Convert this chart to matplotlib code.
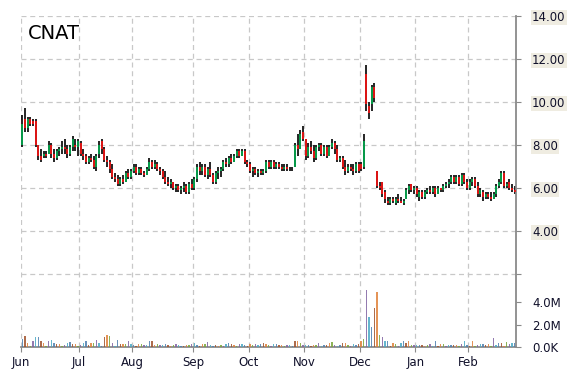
import numpy as np
import matplotlib
matplotlib.use('Agg')
import matplotlib.pyplot as plt

# daily OHLC (trading days, Jun -> Feb)
opens = [8.0, 9.2, 8.8, 9.2, 9.1, 9.1, 8.0, 7.5, 7.5, 7.6,
         7.6, 8.0, 7.6, 7.4, 7.7, 7.8, 7.9, 7.8, 7.6, 7.9,
         8.0, 7.9, 8.1, 7.6, 7.5, 7.2, 7.4, 7.3, 7.0, 7.6,
         8.2, 7.8, 7.3, 7.2, 6.9, 6.5, 6.4, 6.2, 6.4, 6.3,
         6.7, 6.5, 6.8, 7.0, 6.7, 6.9, 6.7, 6.6, 6.9, 7.2,
         7.0, 7.1, 6.9, 6.8, 6.5, 6.3, 6.2, 6.3, 6.0, 6.1,
         5.9, 6.0, 6.1, 5.8, 6.2, 6.0, 6.4, 7.0, 6.8, 7.0,
         6.6, 6.9, 6.6, 6.3, 6.7, 6.8, 6.9, 7.2, 7.1, 7.4,
         7.2, 7.5, 7.7, 7.5, 7.7, 7.2, 7.1, 6.8, 6.9, 6.7,
         6.8, 6.7, 6.8, 7.2, 7.0, 7.2, 7.0, 7.1, 7.0, 6.9,
         7.0, 6.9, 6.9, 7.0, 8.0, 7.8, 8.6, 8.3, 7.5, 7.9,
         7.7, 7.4, 7.9, 8.0, 7.6, 7.9, 7.5, 7.9, 8.1, 7.8,
         7.3, 7.4, 7.0, 6.8, 7.0, 6.9, 6.8, 7.1, 7.1, 7.0,
         11.3, 9.8, 9.9, 10.7, 6.8, 6.1, 6.3, 5.8, 5.4, 5.3,
         5.5, 5.3, 5.5, 5.4, 5.3, 5.5, 5.9, 6.2, 5.9, 6.0,
         5.6, 5.8, 5.6, 5.8, 5.9, 5.8, 6.0, 5.7, 6.0, 5.9,
         6.1, 6.2, 6.3, 6.5, 6.3, 6.5, 6.2, 6.6, 6.3, 6.0,
         6.3, 6.4, 6.1, 5.7, 5.8, 5.6, 5.7, 5.6, 5.5, 5.7,
         6.1, 6.3, 6.7, 6.1, 6.3, 6.0, 5.9]
highs = [9.4, 9.7, 9.3, 9.3, 9.2, 9.2, 8.0, 7.8, 7.7, 7.7,
         8.2, 8.1, 7.8, 7.8, 7.9, 8.2, 8.3, 8.0, 8.0, 8.4,
         8.3, 8.3, 8.2, 7.8, 7.6, 7.5, 7.6, 7.5, 7.6, 8.2,
         8.3, 7.9, 7.5, 7.3, 7.1, 6.7, 6.6, 6.5, 6.6, 6.8,
         6.9, 6.9, 7.1, 7.1, 7.0, 7.0, 6.8, 7.0, 7.4, 7.3,
         7.3, 7.2, 7.0, 6.9, 6.8, 6.5, 6.4, 6.3, 6.2, 6.2,
         6.1, 6.3, 6.2, 6.3, 6.4, 6.5, 7.1, 7.2, 7.1, 7.1,
         7.0, 7.2, 6.7, 6.8, 7.0, 7.0, 7.3, 7.4, 7.5, 7.6,
         7.6, 7.8, 7.8, 7.8, 7.8, 7.3, 7.2, 7.0, 7.0, 6.9,
         6.9, 6.9, 7.3, 7.3, 7.3, 7.3, 7.2, 7.2, 7.1, 7.1,
         7.1, 7.0, 7.0, 8.1, 8.5, 8.7, 8.9, 8.3, 8.1, 8.2,
         8.0, 8.0, 8.1, 8.1, 8.0, 8.0, 8.0, 8.3, 8.2, 8.0,
         7.5, 7.5, 7.3, 7.1, 7.1, 7.1, 7.2, 7.2, 7.2, 8.5,
         11.7, 10.0, 10.8, 10.9, 6.8, 6.3, 6.3, 5.9, 5.6, 5.6,
         5.6, 5.6, 5.7, 5.6, 5.5, 6.0, 6.2, 6.2, 6.1, 6.1,
         5.9, 5.9, 5.9, 6.0, 6.1, 6.1, 6.1, 6.1, 6.0, 6.2,
         6.3, 6.4, 6.6, 6.6, 6.6, 6.6, 6.7, 6.7, 6.4, 6.4,
         6.5, 6.5, 6.3, 6.0, 5.9, 5.8, 5.8, 5.8, 5.8, 6.2,
         6.4, 6.8, 6.8, 6.3, 6.4, 6.2, 6.1]
lows = [7.9, 8.6, 8.6, 8.9, 8.9, 7.9, 7.3, 7.2, 7.4, 7.4,
        7.6, 7.4, 7.2, 7.3, 7.5, 7.6, 7.6, 7.4, 7.5, 7.7,
        7.7, 7.5, 7.5, 7.3, 7.1, 7.1, 7.2, 6.9, 6.8, 7.4,
        7.6, 7.2, 7.0, 6.7, 6.4, 6.3, 6.1, 6.1, 6.2, 6.3,
        6.4, 6.4, 6.7, 6.6, 6.6, 6.6, 6.5, 6.6, 6.8, 6.9,
        6.9, 6.8, 6.6, 6.4, 6.2, 6.1, 6.0, 5.9, 5.8, 5.8,
        5.7, 5.8, 5.7, 5.7, 5.9, 5.9, 6.3, 6.6, 6.6, 6.5,
        6.4, 6.5, 6.2, 6.2, 6.4, 6.5, 6.8, 7.0, 7.0, 7.1,
        7.2, 7.4, 7.4, 7.5, 7.1, 7.0, 6.7, 6.5, 6.6, 6.5,
        6.6, 6.6, 6.7, 6.9, 6.9, 6.9, 6.9, 6.9, 6.8, 6.8,
        6.8, 6.8, 6.8, 7.0, 7.5, 7.8, 8.2, 7.3, 7.4, 7.6,
        7.2, 7.3, 7.7, 7.5, 7.5, 7.4, 7.5, 7.8, 7.6, 7.2,
        7.2, 6.9, 6.6, 6.7, 6.8, 6.6, 6.7, 6.7, 6.8, 6.9,
        9.6, 9.2, 9.6, 10.0, 6.0, 5.9, 5.6, 5.3, 5.2, 5.2,
        5.3, 5.2, 5.3, 5.3, 5.2, 5.5, 5.7, 5.8, 5.7, 5.6,
        5.4, 5.5, 5.5, 5.7, 5.7, 5.7, 5.6, 5.7, 5.8, 5.8,
        6.0, 6.0, 6.2, 6.2, 6.2, 6.1, 6.1, 6.2, 5.9, 5.9,
        6.1, 6.0, 5.6, 5.6, 5.4, 5.5, 5.5, 5.4, 5.5, 5.6,
        6.0, 6.2, 6.0, 6.0, 5.9, 5.8, 5.7]
closes = [9.0, 8.8, 9.2, 9.0, 9.0, 8.0, 7.5, 7.3, 7.6, 7.5,
          8.0, 7.6, 7.4, 7.7, 7.8, 7.9, 7.8, 7.6, 7.9, 8.3,
          7.9, 8.2, 7.6, 7.5, 7.2, 7.4, 7.3, 7.0, 7.5, 8.0,
          7.8, 7.3, 7.2, 6.9, 6.5, 6.4, 6.2, 6.4, 6.3, 6.7,
          6.5, 6.8, 7.0, 6.7, 6.9, 6.7, 6.6, 6.9, 7.2, 7.0,
          7.1, 6.9, 6.8, 6.5, 6.3, 6.2, 6.3, 6.0, 6.1, 5.9,
          6.0, 6.1, 5.8, 6.2, 6.0, 6.4, 7.0, 6.8, 7.0, 6.6,
          6.9, 6.6, 6.3, 6.7, 6.8, 6.9, 7.2, 7.1, 7.4, 7.2,
          7.5, 7.7, 7.5, 7.7, 7.2, 7.1, 6.8, 6.9, 6.7, 6.8,
          6.7, 6.8, 7.2, 7.0, 7.2, 7.0, 7.1, 7.0, 6.9, 7.0,
          6.9, 6.9, 6.9, 8.0, 7.8, 8.5, 8.3, 7.5, 7.9, 7.7,
          7.4, 7.9, 8.0, 7.6, 7.9, 7.5, 7.9, 8.1, 7.8, 7.3,
          7.4, 7.0, 6.8, 7.0, 6.9, 6.8, 7.1, 6.8, 6.9, 8.2,
          9.9, 9.5, 10.7, 10.2, 6.1, 6.0, 5.7, 5.5, 5.3, 5.5,
          5.4, 5.5, 5.4, 5.3, 5.4, 5.9, 6.1, 5.9, 6.0, 5.7,
          5.8, 5.6, 5.8, 5.9, 5.8, 6.0, 5.7, 6.0, 5.9, 6.1,
          6.2, 6.3, 6.5, 6.3, 6.5, 6.2, 6.6, 6.3, 6.0, 6.3,
          6.4, 6.1, 5.7, 5.9, 5.6, 5.7, 5.6, 5.5, 5.7, 6.1,
          6.3, 6.7, 6.1, 6.2, 6.0, 5.9, 5.8]
# volume in millions
volume = [0.75, 1.0, 0.35, 0.05, 0.55, 0.85, 0.85, 0.55, 0.4, 0.1,
          0.5, 0.65, 0.4, 0.3, 0.3, 0.1, 0.2, 0.35, 0.45, 0.3,
          0.3, 0.1, 0.2, 0.4, 0.5, 0.2, 0.4, 0.4, 0.6, 0.4,
          0.1, 0.85, 1.1, 0.95, 0.4, 0.1, 0.6, 0.25, 0.25, 0.3,
          0.5, 0.3, 0.2, 0.1, 0.3, 0.25, 0.2, 0.15, 0.55, 0.5,
          0.2, 0.25, 0.15, 0.2, 0.3, 0.15, 0.1, 0.2, 0.25, 0.15,
          0.1, 0.1, 0.15, 0.2, 0.3, 0.35, 0.2, 0.1, 0.25, 0.3,
          0.45, 0.15, 0.1, 0.15, 0.1, 0.2, 0.1, 0.3, 0.35, 0.25,
          0.2, 0.1, 0.25, 0.3, 0.2, 0.1, 0.3, 0.2, 0.25, 0.15,
          0.3, 0.35, 0.25, 0.2, 0.1, 0.25, 0.3, 0.2, 0.15, 0.1,
          0.15, 0.2, 0.1, 0.55, 0.55, 0.4, 0.2, 0.15, 0.2, 0.1,
          0.15, 0.2, 0.35, 0.1, 0.15, 0.2, 0.4, 0.45, 0.2, 0.1,
          0.15, 0.4, 0.35, 0.15, 0.1, 0.3, 0.15, 0.3, 0.55, 0.75,
          5.1, 2.7, 1.8, 3.5, 4.9, 1.1, 0.85, 0.55, 0.5, 0.1,
          0.35, 0.3, 0.1, 0.4, 0.5, 0.35, 0.5, 0.15, 0.15, 0.15,
          0.15, 0.15, 0.1, 0.15, 0.3, 0.1, 0.5, 0.1, 0.25, 0.3,
          0.1, 0.2, 0.2, 0.15, 0.2, 0.1, 0.3, 0.55, 0.15, 0.1,
          0.5, 0.1, 0.15, 0.25, 0.25, 0.2, 0.3, 0.1, 0.8, 0.2,
          0.4, 0.4, 0.1, 0.45, 0.3, 0.4, 0.35]

months = ['Jun', 'Jul', 'Aug', 'Sep', 'Oct', 'Nov', 'Dec', 'Jan', 'Feb']
month_start = [0, 22, 42, 65, 86, 107, 128, 149, 169]

o = np.array(opens)
h = np.array(highs)
l = np.array(lows)
c = np.array(closes)
v = np.array(volume) * 1e6
x = np.arange(len(c))

fig = plt.figure(figsize=(5.7, 3.7), dpi=100)
ax = fig.add_axes([21 / 570, 23 / 370, 495 / 570, 331 / 370])

grid_kw = dict(color='#c8c8c8', lw=0.9, dashes=(4, 3))
for p in [2, 4, 6, 8, 10, 12, 14]:
    ax.axhline(p, zorder=0, **grid_kw)
for m in month_start:
    ax.axvline(m - 0.5, zorder=0, **grid_kw)

# candles
body_col = np.where(c >= o, '#00b050', '#ff1111')
ax.vlines(x, l, h, color='black', lw=1.2, zorder=2)
ax.vlines(x, np.minimum(o, c), np.maximum(o, c), colors=body_col, lw=1.2, zorder=3)

ax.set_xlim(-0.5, len(c) - 0.5)
ax.set_ylim(14 - 331 / 21.5, 14)
ax.set_xticks([m - 0.5 for m in month_start])
ax.set_xticklabels(months)

# volume
vax = ax.twinx()
vol_cols = ['#4f7fb0', '#a0522d', '#e0813a', '#7aa63a', '#8064a2', '#4aaac6']
vax.bar(x, v, width=0.5, color=[vol_cols[i % 6] for i in range(len(v))], alpha=0.85, zorder=2)
vax.set_ylim(0, 331 / 11.25 * 1e6)
vax.set_yticks([0, 2e6, 4e6])
vax.set_yticklabels(['0.0K', '2.0M', '4.0M'])
for s in ['left', 'top', 'bottom', 'right']:
    vax.spines[s].set_visible(False)
vax.tick_params(axis='y', colors='#8a8a8a', labelcolor='#10102a', labelsize=8.5, length=3.5, pad=8)

# price ticks on the right (after twinx, which moves them left)
ax.yaxis.tick_right()
ax.set_yticks([2, 4, 6, 8, 10, 12, 14])
ax.set_yticklabels(['', '4.00', '6.00', '8.00', '10.00', '12.00', '14.00'])
for s in ['left', 'top']:
    ax.spines[s].set_visible(False)
for s in ['right', 'bottom']:
    ax.spines[s].set_color('#8a8a8a')
    ax.spines[s].set_linewidth(1.3)
ax.tick_params(axis='both', colors='#8a8a8a', labelcolor='#10102a', labelsize=8.5, length=3.5)
ax.tick_params(axis='y', pad=8)
ax.tick_params(axis='x', pad=3)
for t in ax.yaxis.get_major_ticks():
    t.label2.set_bbox(dict(facecolor='#efece1', edgecolor='none', pad=1))

ax.text(0.014, 0.946, 'CNAT', transform=ax.transAxes, fontsize=14, ha='left', va='center')

plt.savefig('out.png')
